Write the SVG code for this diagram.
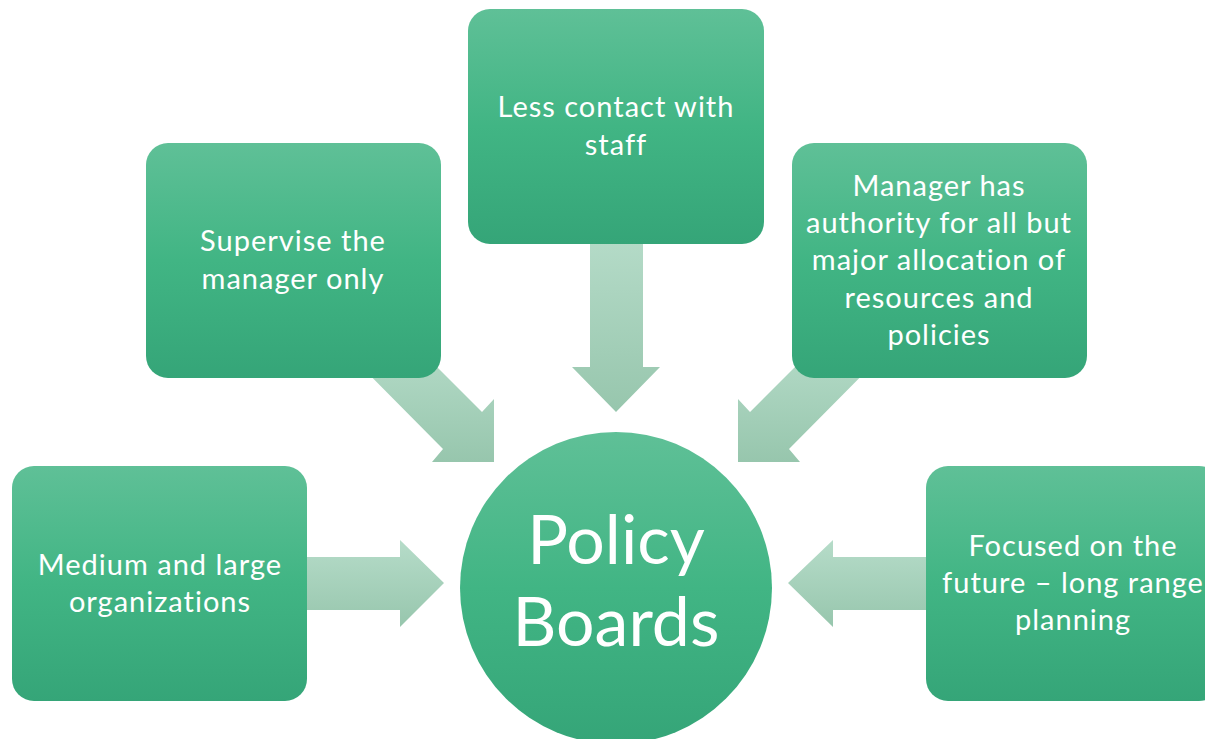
<svg xmlns="http://www.w3.org/2000/svg" width="1205" height="739" viewBox="0 0 1205 739">
<defs>
<linearGradient id="gBox" x1="0" y1="0" x2="0" y2="1">
<stop offset="0" stop-color="#5fc097"/>
<stop offset="0.5" stop-color="#41b584"/>
<stop offset="1" stop-color="#35a578"/>
</linearGradient>
<linearGradient id="gArr" x1="0" y1="0" x2="0" y2="1">
<stop offset="0" stop-color="#b6dcc9"/>
<stop offset="1" stop-color="#97c6ad"/>
</linearGradient>
<style>
.box{fill:url(#gBox);}
.arr{fill:url(#gArr);}
.t{font-family:Lato,"Open Sans","Liberation Sans",sans-serif;font-size:29px;letter-spacing:1px;fill:#ffffff;text-anchor:middle;}
.big{font-family:Lato,"Open Sans","Liberation Sans",sans-serif;font-size:68px;fill:#ffffff;text-anchor:middle;}
</style>
</defs>
<g id="connectors">
<polygon class="arr" points="590,230 643,230 643,367 660,367 616,412 572,367 590,367"/>
<polygon class="arr" points="410,340 482,412 494,399 494,462 432,462 443,449 335,340"/>
<polygon class="arr" points="822,340 750,412 738,399 738,462 800,462 789,449 897,340"/>
<polygon class="arr" points="290,557 400,557 400,540 444,583 400,627 400,610 290,610"/>
<polygon class="arr" points="940,557 833,557 833,540 788,583 833,627 833,610 940,610"/>
</g>
<g id="center">
<circle cx="616" cy="588" r="156" class="box"/>
<text class="big" x="616" y="564">Policy</text>
<text class="big" x="616" y="646">Boards</text>
</g>
<g id="top">
<rect x="468" y="9" width="296" height="235" rx="22" class="box"/>
<text class="t" x="616" y="117">Less contact with</text>
<text class="t" x="616" y="155">staff</text>
</g>
<g id="upperleft">
<rect x="146" y="143" width="295" height="235" rx="22" class="box"/>
<text class="t" x="293" y="251">Supervise the</text>
<text class="t" x="293" y="289">manager only</text>
</g>
<g id="upperright">
<rect x="792" y="143" width="295" height="235" rx="22" class="box"/>
<text class="t" x="939" y="196">Manager has</text>
<text class="t" x="939" y="233">authority for all but</text>
<text class="t" x="939" y="270">major allocation of</text>
<text class="t" x="939" y="308">resources and</text>
<text class="t" x="939" y="345">policies</text>
</g>
<g id="left">
<rect x="12" y="466" width="295" height="235" rx="22" class="box"/>
<text class="t" x="160" y="575">Medium and large</text>
<text class="t" x="160" y="612">organizations</text>
</g>
<g id="right">
<rect x="926" y="466" width="295" height="235" rx="22" class="box"/>
<text class="t" x="1073" y="556">Focused on the</text>
<text class="t" x="1073" y="593">future – long range</text>
<text class="t" x="1073" y="630">planning</text>
</g>
</svg>
